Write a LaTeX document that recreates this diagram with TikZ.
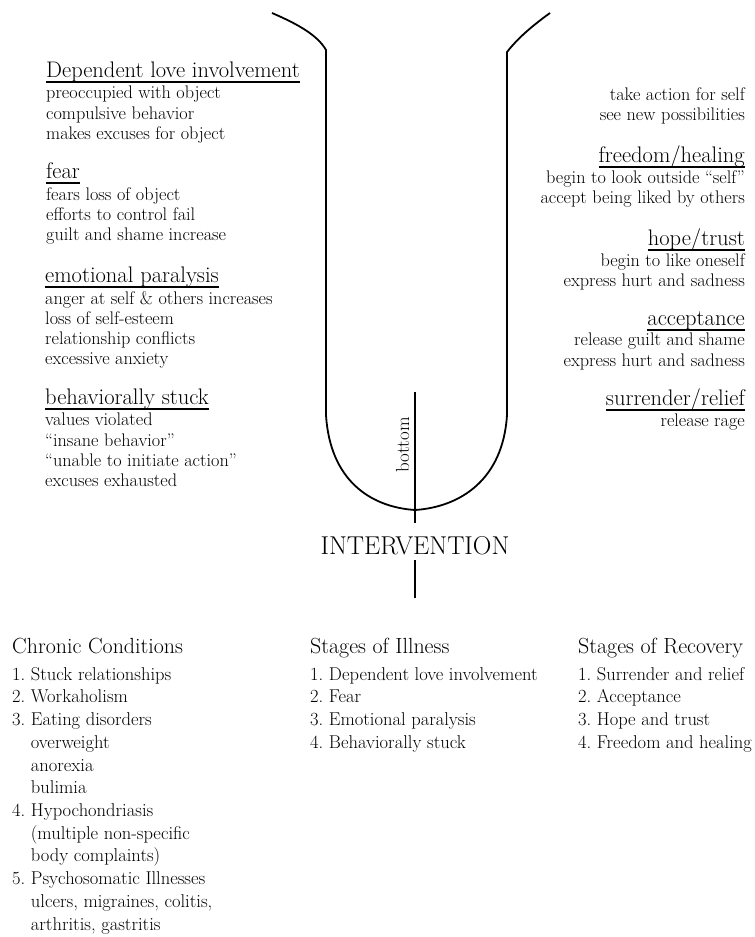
\documentclass[tikz,border=0pt]{standalone}
\usetikzlibrary{positioning}

\tikzset{
  head/.style={inner sep=0pt, font=\fontsize{22.6}{26}\selectfont},
  body/.style={inner sep=0pt, font=\fontsize{18.3}{20.3}\selectfont},
  listhead/.style={inner sep=0pt, font=\fontsize{22}{26}\selectfont},
  listbody/.style={inner sep=0pt, align=left, font=\fontsize{18.6}{22.8}\selectfont\frenchspacing},
  ushape/.style={line width=1.8bp, line join=round},
  rule/.style={line width=1.1bp}
}
\newcommand{\ind}{\hphantom{3. }}

\begin{document}
\begin{tikzpicture}[x=1bp, y=-1bp]
    \useasboundingbox (0,0) rectangle (755,937);

    % the U
    \draw[ushape] (272,13) .. controls (300,25) and (318,36) .. (326,50) -- (326,415)
        .. controls (330,480) and (370,507) .. (415,510) coordinate (bot)
        .. controls (460,507) and (503,480) .. (507,415) -- (507,52)
        .. controls (518,38) and (532,26) .. (550,13);
    \coordinate (stemtop) at (415,392);
    \draw[ushape] (stemtop) -- ([yshift=-13bp]bot);
    \node[inner sep=0pt, rotate=90, anchor=base, font=\fontsize{19}{22}\selectfont] (botlbl) at (409,445) {bottom};

    \node[inner sep=0pt, anchor=base, font=\fontsize{25.9}{28}\selectfont] (interv) at (415,554) {INTERVENTION};
    \coordinate (stemend) at (415,598);
    \draw[ushape] ([yshift=-6bp]interv.base) -- (stemend);

    % stages of illness, left
    \node[head, anchor=base west] (dli) at (46,77) {Dependent love involvement};
    \node[body, align=left, anchor=north west] (dli-t) at ([yshift=-9bp]dli.base west)
        {preoccupied with object\\compulsive behavior\\makes excuses for object};
    \node[head, anchor=base west] (fear) at (46,178) {fear};
    \node[body, align=left, anchor=north west] (fear-t) at ([yshift=-9bp]fear.base west)
        {fears loss of object\\efforts to control fail\\guilt and shame increase};
    \node[head, anchor=base west] (emo) at (45,282) {emotional paralysis};
    \node[body, align=left, anchor=north west] (emo-t) at ([yshift=-9bp]emo.base west)
        {anger at self \& others increases\\loss of self-esteem\\relationship conflicts\\excessive anxiety};
    \node[head, anchor=base west] (beh) at (45,404) {behaviorally stuck};
    \node[body, align=left, anchor=north west] (beh-t) at ([yshift=-9bp]beh.base west)
        {values violated\\``insane behavior''\\``unable to initiate action''\\excuses exhausted};

    % stages of recovery, right
    \node[body, align=right, anchor=north east] (act-t) at (745,87)
        {take action for self\\see new possibilities};
    \node[head, anchor=base east] (free) at (745,162) {freedom/healing};
    \node[body, align=right, anchor=north east] (free-t) at ([yshift=-8bp]free.base east)
        {begin to look outside ``self''\\accept being liked by others};
    \node[head, anchor=base east] (hope) at (745,245) {hope/trust};
    \node[body, align=right, anchor=north east] (hope-t) at ([yshift=-8bp]hope.base east)
        {begin to like oneself\\express hurt and sadness};
    \node[head, anchor=base east] (acc) at (745,325) {acceptance};
    \node[body, align=right, anchor=north east] (acc-t) at ([yshift=-8bp]acc.base east)
        {release guilt and shame\\express hurt and sadness};
    \node[head, anchor=base east] (sur) at (745,405) {surrender/relief};
    \node[body, align=right, anchor=north east] (sur-t) at ([yshift=-9bp]sur.base east)
        {release rage};

    \foreach \h in {dli,fear,emo,beh,free,hope,acc,sur}
        \draw[rule] ([yshift=-5bp]\h.base west) -- ([yshift=-5bp]\h.base east);

    % lists at the foot
    \node[listhead, anchor=base west] (chr) at (12,653) {Chronic Conditions};
    \node[listbody, anchor=north west] (chr-t) at ([yshift=-14bp]chr.base west)
        {1. Stuck relationships\\2. Workaholism\\3. Eating disorders\\\ind overweight\\\ind anorexia\\\ind bulimia\\
         4. Hypochondriasis\\\ind (multiple non-specific\\\ind body complaints)\\5. Psychosomatic Illnesses\\
         \ind ulcers, migraines, colitis,\\\ind arthritis, gastritis};
    \node[listhead, anchor=base west] (ill) at (310,653) {Stages of Illness};
    \node[listbody, anchor=north west] (ill-t) at ([yshift=-14bp]ill.base west)
        {1. Dependent love involvement\\2. Fear\\3. Emotional paralysis\\4. Behaviorally stuck};
    \node[listhead, anchor=base west] (rec) at (578,653) {Stages of Recovery};
    \node[listbody, anchor=north west] (rec-t) at ([yshift=-14bp]rec.base west)
        {1. Surrender and relief\\2. Acceptance\\3. Hope and trust\\4. Freedom and healing};
\end{tikzpicture}
\end{document}
